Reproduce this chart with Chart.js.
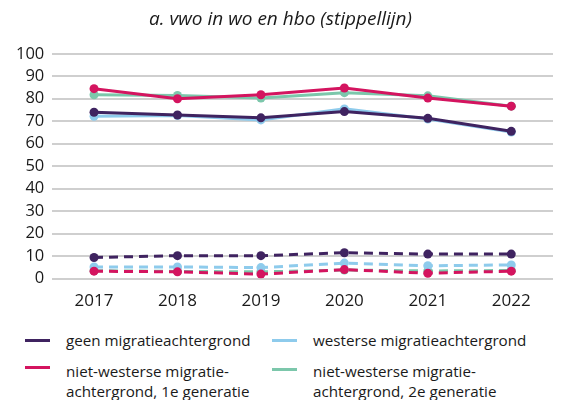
<!DOCTYPE html>
<html>
<head>
<meta charset="utf-8">
<script src="https://cdn.jsdelivr.net/npm/chart.js@4"></script>
<style>
  body { margin: 0; background: #fff; font-family: "Open Sans", sans-serif; }
  #wrap { position: relative; width: 584px; height: 400px; }
  #chart { position: absolute; left: 0; top: 0; }
  .leg { position: absolute; font-size: 15.2px; color: #1a1a1a; line-height: 20px; }
  .sw { position: absolute; width: 25px; height: 3px; }
</style>
</head>
<body>
<div id="wrap">
  <canvas id="chart" width="584" height="315"></canvas>
  <div id="legend"></div>
</div>
<script>
// Jaren op de x-as
const jaren = ['2017', '2018', '2019', '2020', '2021', '2022'];

// vwo -> wo (doorgetrokken lijn)
const woGeen = [74.0, 72.8, 71.5, 74.3, 71.3, 65.5];
const woWesters = [72.2, 72.5, 70.6, 75.5, 71.0, 65.2];
const woNietWesters1 = [84.5, 80.0, 81.8, 84.8, 80.3, 76.7];
const woNietWesters2 = [81.8, 81.5, 80.3, 82.7, 81.3, 76.7];

// vwo -> hbo (stippellijn)
const hboGeen = [9.4, 10.2, 10.2, 11.5, 10.9, 10.9];
const hboWesters = [5.2, 5.2, 4.9, 6.9, 5.7, 6.1];
const hboNietWesters1 = [3.3, 3.0, 2.0, 4.0, 2.4, 3.3];
const hboNietWesters2 = [3.5, 3.2, 3.0, 3.8, 3.4, 3.6];

const yTicks = [0, 10, 20, 30, 40, 50, 60, 70, 80, 90, 100];

// kleuren per groep
const kleurGeen = '#3f2360';
const kleurWesters = '#8ecbec';
const kleurNW1 = '#d4145f';
const kleurNW2 = '#7cc7ab';

function lijn(label, values, kleur, dashed) {
    return {
        label: label,
        data: values,
        borderColor: kleur,
        backgroundColor: kleur,
        borderWidth: 3,
        borderDash: dashed ? [9, 6] : [],
        pointRadius: 4.5,
        pointHoverRadius: 4.5,
        pointBorderWidth: 0,
        tension: 0,
        fill: false
    };
}

// eerste dataset wordt bovenop getekend
const data = {
    labels: jaren,
    datasets: [
        lijn('1e generatie hbo', hboNietWesters1, kleurNW1, true),
        lijn('geen hbo', hboGeen, kleurGeen, true),
        lijn('westerse hbo', hboWesters, kleurWesters, true),
        lijn('2e generatie hbo', hboNietWesters2, kleurNW2, true),
        lijn('1e generatie wo', woNietWesters1, kleurNW1, false),
        lijn('geen wo', woGeen, kleurGeen, false),
        lijn('2e generatie wo', woNietWesters2, kleurNW2, false),
        lijn('westerse wo', woWesters, kleurWesters, false)
    ]
};

const config = {
    type: 'line',
    data: data,
    options: {
        responsive: false,
        animation: false,
        layout: { padding: { left: 8, right: 31, top: 0, bottom: 0 } },
        plugins: {
            legend: { display: false },
            tooltip: { enabled: false },
            title: {
                display: true,
                text: 'a. vwo in wo en hbo (stippellijn)',
                color: '#1a1a1a',
                font: { family: 'Open Sans', size: 19, style: 'italic', weight: 'normal' },
                padding: { top: 8, bottom: 23 }
            }
        },
        scales: {
            x: {
                offset: true,
                grid: { display: false },
                border: { display: false },
                ticks: {
                    color: '#1a1a1a',
                    font: { family: 'Open Sans', size: 17 },
                    padding: 4
                }
            },
            y: {
                min: 0,
                max: 100,
                afterBuildTicks: function (axis) {
                    axis.ticks = yTicks.map(v => ({ value: v }));
                },
                grid: { color: '#cfcfcf', lineWidth: 2, drawTicks: false },
                border: { display: false },
                ticks: {
                    autoSkip: false,
                    color: '#1a1a1a',
                    font: { family: 'Open Sans', size: 16.5 },
                    padding: 8
                }
            }
        }
    }
};

new Chart(document.getElementById('chart'), config);

// legenda als HTML onder de grafiek
const legendItems = [
    { tekst: 'geen migratieachtergrond', kleur: kleurGeen, x: 25, y: 330, sy: 340 },
    { tekst: 'niet-westerse migratie-<br>achtergrond, 1e generatie', kleur: kleurNW1, x: 25, y: 361, sy: 367 },
    { tekst: 'westerse migratieachtergrond', kleur: kleurWesters, x: 272, y: 330, sy: 340 },
    { tekst: 'niet-westerse migratie-<br>achtergrond, 2e generatie', kleur: kleurNW2, x: 272, y: 361, sy: 369 }
];
const legend = document.getElementById('legend');
legendItems.forEach(item => {
    const sw = document.createElement('div');
    sw.className = 'sw';
    sw.style.left = item.x + 'px';
    sw.style.top = (item.sy - 1) + 'px';
    sw.style.background = item.kleur;
    legend.appendChild(sw);
    const t = document.createElement('div');
    t.className = 'leg';
    t.style.left = (item.x + 41) + 'px';
    t.style.top = item.y + 'px';
    t.innerHTML = item.tekst;
    legend.appendChild(t);
});
</script>
</body>
</html>
